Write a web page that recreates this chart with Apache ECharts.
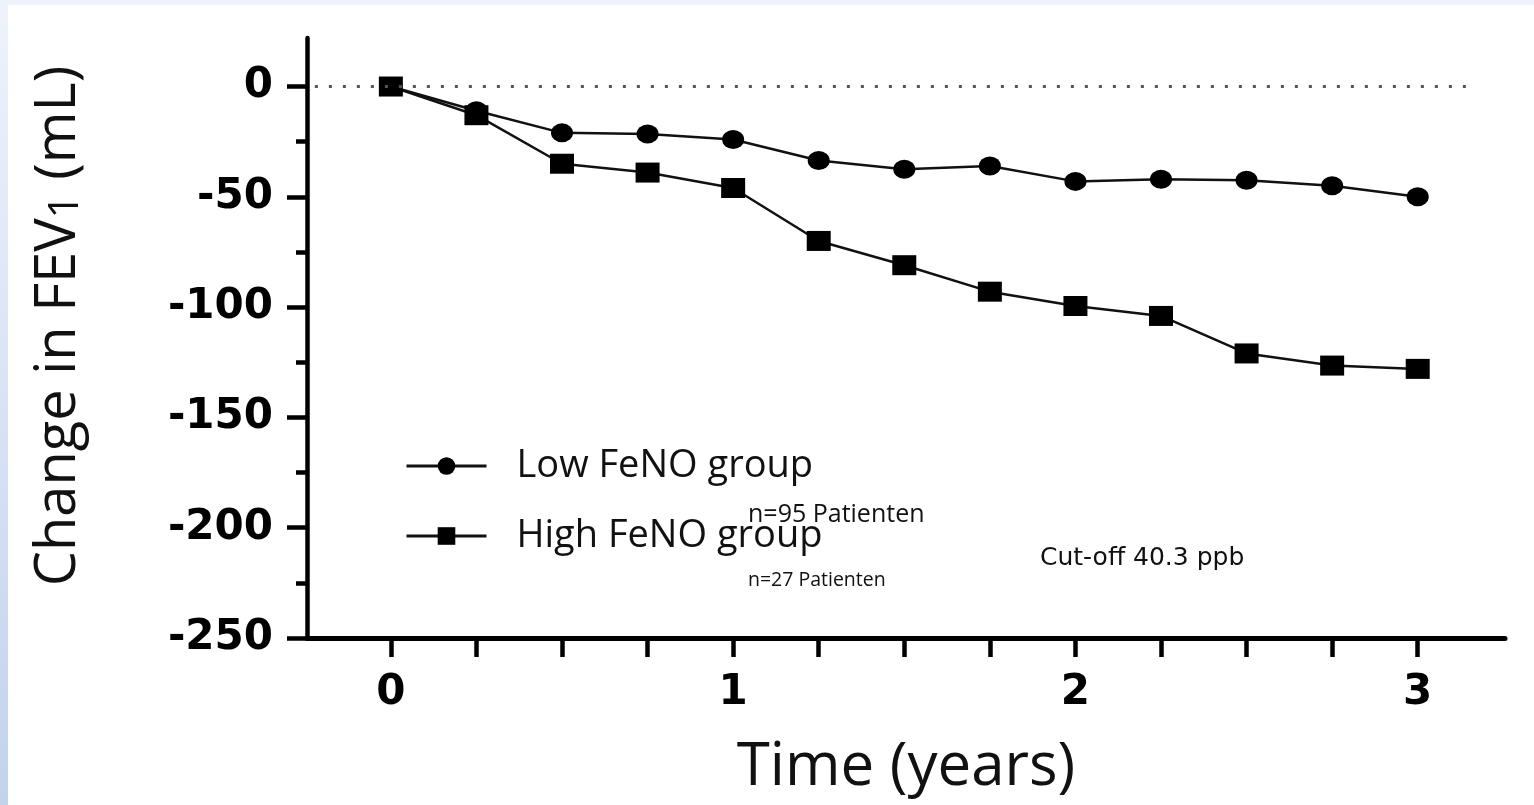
<!DOCTYPE html>
<html>
<head>
<meta charset="utf-8">
<script src="https://cdn.jsdelivr.net/npm/echarts@6/dist/echarts.min.js"></script>
<style>
  html, body { margin: 0; padding: 0; background: #fff; }
  #wrap { position: relative; width: 1534px; height: 805px; overflow: hidden; }
  .strip-top { position: absolute; left: 0; top: 0; width: 1534px; height: 5px; background: #eef3fb; }
  .strip-left { position: absolute; left: 0; top: 0; width: 8px; height: 805px;
    background: linear-gradient(to bottom, #eef3fb, #c2d3ee); }
  #chart { position: absolute; left: 0; top: 0; width: 1534px; height: 805px; }
</style>
</head>
<body>
<div id="wrap">
  <div class="strip-top"></div>
  <div class="strip-left"></div>
  <div id="chart"></div>
</div>
<script>
// time points (years)
const years = [0, 0.25, 0.5, 0.75, 1, 1.25, 1.5, 1.75, 2, 2.25, 2.5, 2.75, 3];
// change in FEV1 (mL)
const lowFeNO = [0, -11, -21, -21.5, -24, -33.5, -37.5, -36, -43, -42, -42.5, -45, -50];
const highFeNO = [0, -13, -35, -39, -46, -70, -81, -93, -99.5, -104, -121, -126.5, -128];

const xTicks = [0, 0.25, 0.5, 0.75, 1, 1.25, 1.5, 1.75, 2, 2.25, 2.5, 2.75, 3];
const xLabels = [0, 1, 2, 3];
const yMajor = [-250, -200, -150, -100, -50, 0];
const yMinor = [-225, -175, -125, -75, -25];

const chart = echarts.init(document.getElementById("chart"), null, { renderer: "canvas" });

const tickFont = { fontFamily: "DejaVu Sans", fontWeight: "bold", fontSize: 42, color: "#000" };

const option = {
  animation: false,
  grid: { left: 307, right: 29, top: 38, bottom: 167, containLabel: false },
  legend: {
    orient: "vertical",
    left: 405,
    top: 446,
    padding: 0,
    itemWidth: 80,
    itemHeight: 22,
    itemGap: 30,
    data: ["Low FeNO group", "High FeNO group"],
    lineStyle: { width: 3 },
    textStyle: {
      fontFamily: "Open Sans",
      fontSize: 38,
      lineHeight: 40,
      color: "#111",
      padding: [0, 0, 0, 25]
    }
  },
  xAxis: {
    type: "value",
    min: -0.245,
    max: 3.255,
    name: "Time (years)",
    nameLocation: "middle",
    nameGap: 100,
    nameTextStyle: { fontFamily: "Open Sans", fontSize: 60, color: "#111" },
    axisLine: { onZero: false, lineStyle: { color: "#000", width: 5 } },
    axisTick: { customValues: xTicks, length: 19, lineStyle: { color: "#000", width: 4.5 } },
    axisLabel: Object.assign({ customValues: xLabels, margin: 34 }, tickFont),
    splitLine: { show: false }
  },
  yAxis: [
    {
      type: "value",
      min: -250,
      max: 22,
      position: "left",
      name: "{a|Change in FEV}{s|1}{a| (mL)}",
      nameLocation: "middle",
      nameGap: 220,
      nameTextStyle: {
        padding: [0, 0, 0, 24],
        rich: {
          a: { fontFamily: "Open Sans", fontSize: 56, color: "#111" },
          s: { fontFamily: "Open Sans", fontSize: 42, color: "#111", padding: [14, 0, 0, 0] }
        }
      },
      axisLine: { onZero: false, lineStyle: { color: "#000", width: 4.5 } },
      axisTick: { customValues: yMajor, length: 20, lineStyle: { color: "#000", width: 4.5 } },
      axisLabel: Object.assign({ customValues: yMajor, margin: 34 }, tickFont),
      splitLine: { show: false }
    },
    {
      // minor ticks only
      type: "value",
      min: -250,
      max: 22,
      position: "left",
      axisLine: { show: false, onZero: false },
      axisTick: { customValues: yMinor, length: 11, lineStyle: { color: "#000", width: 4.5 } },
      axisLabel: { show: false },
      splitLine: { show: false }
    }
  ],
  series: [
    {
      name: "Low FeNO group",
      type: "line",
      yAxisIndex: 0,
      data: years.map((x, i) => [x, lowFeNO[i]]),
      symbol: "circle",
      symbolSize: [22, 19],
      lineStyle: { color: "#111", width: 2.5 },
      itemStyle: { color: "#000" },
      markLine: {
        silent: true,
        symbol: ["none", "none"],
        label: { show: false },
        lineStyle: { color: "#555", width: 3, type: [3, 11] },
        data: [[{ coord: [-0.222, 0] }, { coord: [3.146, 0] }]]
      }
    },
    {
      name: "High FeNO group",
      type: "line",
      yAxisIndex: 0,
      data: years.map((x, i) => [x, highFeNO[i]]),
      symbol: "rect",
      symbolSize: [24, 20],
      lineStyle: { color: "#111", width: 2.5 },
      itemStyle: { color: "#000" }
    }
  ],
  graphic: [
    {
      type: "text",
      left: 748,
      top: 502,
      style: { text: "n=95 Patienten", font: "25px 'Open Sans'", fill: "#111" }
    },
    {
      type: "text",
      left: 748,
      top: 570,
      style: { text: "n=27 Patienten", font: "19.5px 'Open Sans'", fill: "#111" }
    },
    {
      type: "text",
      left: 1040,
      top: 546,
      style: { text: "Cut-off 40.3 ppb", font: "25px 'DejaVu Sans'", fill: "#111" }
    }
  ]
};

chart.setOption(option);
</script>
</body>
</html>
